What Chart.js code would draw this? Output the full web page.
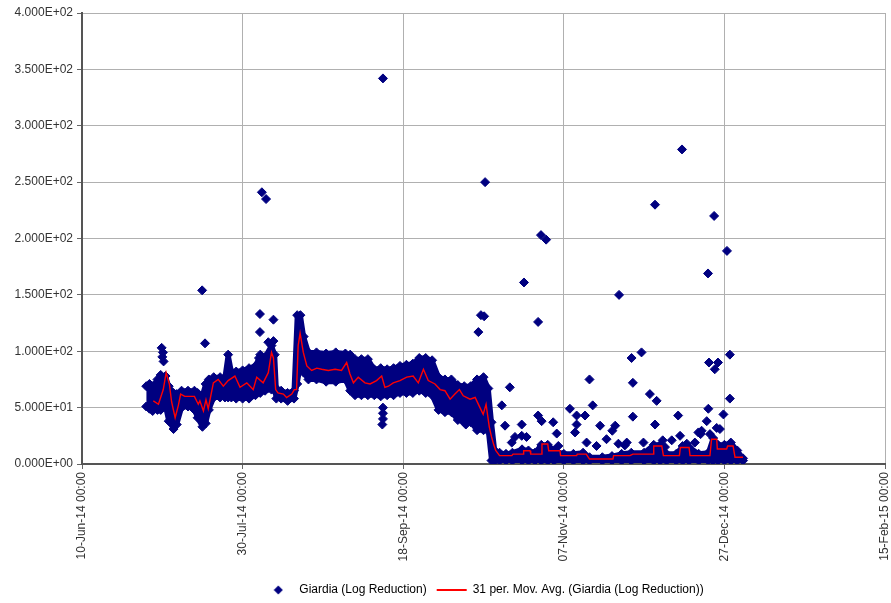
<!DOCTYPE html>
<html>
<head>
<meta charset="utf-8">
<script src="https://cdn.jsdelivr.net/npm/chart.js@4.4.1/dist/chart.umd.min.js"></script>
<style>
  html, body { margin: 0; padding: 0; background: #fff; }
</style>
</head>
<body>
<canvas id="chart" width="891" height="603"></canvas>
<script>
// x values are days counted from 10-Jun-14 00:00
const startUTC = Date.UTC(2014, 5, 10);
const monthNames = ["Jan", "Feb", "Mar", "Apr", "May", "Jun", "Jul", "Aug", "Sep", "Oct", "Nov", "Dec"];
const xTicks = [0, 50, 100, 150, 200, 250];
const yTicks = [0, 50, 100, 150, 200, 250, 300, 350, 400];

// dense cloud of readings: upper and lower edge per day
const bandDays = [
  20, 21, 22, 23.5, 24.5, 26, 27, 28.5, 29.5, 31,
  33, 35, 36, 37.5, 38.5, 39.5, 41, 43, 44.5, 45.5,
  46.5, 48, 50, 52, 54, 55.5, 57, 59, 60, 60.5,
  62, 64, 66, 67, 68, 69, 70.5, 73, 76, 79,
  82, 83.5, 85, 87, 89, 91, 93, 95, 97, 99,
  101, 103, 105, 107, 109, 111, 113, 115, 117, 119,
  121, 123, 125, 126.5, 127.5, 128.5, 130, 132, 134, 137,
  139, 141, 143, 145, 147, 150, 153, 156, 158, 162,
  165, 168, 171, 175, 178, 180, 182, 185, 187, 189,
  192, 195, 196.5, 198, 200, 202, 204, 205.8
];
const bandHigh = [
  69, 71, 69, 75, 79, 78, 69, 63, 62, 65,
  65, 65, 63, 61, 71, 75, 77, 77, 77, 97,
  82, 82, 83, 85, 87, 97, 95, 105, 97, 67,
  65, 63, 65, 132, 132, 113, 99, 99, 98, 99,
  98, 97, 93, 93, 93, 84, 85, 84, 85, 87,
  88, 89, 94, 94, 92, 77, 75, 75, 70, 69,
  69, 75, 77, 67, 37, 12, 10, 9, 10, 13,
  12, 10, 17, 17, 12, 9, 9, 10, 6, 6,
  7, 9, 10, 10, 17, 17, 9, 9, 16, 15,
  9, 10, 23, 17, 17, 19, 12, 5
];
const bandLow = [
  51, 49, 47, 48, 48, 51, 38, 31, 35, 50,
  51, 48, 41, 33, 36, 48, 59, 59, 59, 59,
  59, 58, 58, 58, 61, 63, 65, 66, 65, 58,
  58, 56, 58, 71, 88, 81, 75, 75, 73, 73,
  75, 65, 61, 61, 61, 61, 60, 61, 61, 63,
  63, 63, 65, 63, 61, 48, 46, 46, 39, 37,
  37, 30, 30, 29, 3, 3, 3, 3, 3, 3,
  3, 3, 3, 3, 3, 3, 3, 3, 3, 3,
  3, 3, 3, 3, 3, 3, 3, 3, 3, 3,
  3, 3, 3, 3, 3, 3, 3, 3
];

// isolated readings away from the cloud
const outDays = [
  24.8, 25.2, 25.0, 25.4, 37.4, 38.3, 56.0, 57.3, 55.4, 55.4,
  55.1, 59.6, 59.6, 58.0, 93.7, 93.7, 93.7, 93.7, 93.5, 119.5,
  123.4, 124.2, 125.2, 125.5, 130.7, 131.7, 133.2, 133.8, 134.8, 136.9,
  136.9, 137.6, 138.4, 142.0, 142.0, 142.9, 143.1, 144.5, 146.7, 147.8,
  148.3, 151.9, 153.5, 154.0, 154.0, 156.6, 157.1, 158.0, 159.0, 160.2,
  161.3, 163.3, 165.1, 166.0, 167.0, 167.2, 169.0, 169.6, 171.1, 171.5,
  171.5, 174.2, 174.8, 176.8, 178.4, 178.4, 178.9, 180.8, 181.5, 183.6,
  185.6, 186.2, 186.8, 188.3, 190.8, 191.9, 192.6, 192.9, 194.5, 194.9,
  195.0, 195.2, 195.5, 196.8, 197.0, 197.6, 198.0, 198.6, 199.7, 200.8,
  201.7, 201.7
];
const outVals = [
  103, 99, 95, 91, 154, 107, 241, 235, 133, 117,
  94, 128, 109, 108, 342, 50, 45, 40, 35, 35,
  117, 132, 131, 250, 52, 34, 68, 19, 24, 35,
  25, 161, 24, 126, 43, 203, 38, 199, 37, 27,
  16, 49, 28, 43, 35, 43, 19, 75, 52, 16,
  34, 22, 29.5, 34, 18, 150, 16.5, 19, 94, 72,
  42, 99, 19, 62, 230, 35, 56, 21, 15, 21,
  43, 25, 279, 18, 19, 28, 26.5, 29.5, 38, 169,
  49, 90, 26.5, 220, 84, 32, 90, 31, 44, 189,
  97, 58
];

// 31 period moving average
const avgDays = [
  22.2, 23.8, 25.3, 26.2, 27.2, 27.9, 29, 30, 30.7, 32,
  35, 36.2, 36.7, 37.8, 38.6, 39.3, 40.9, 42.4, 44, 45.5,
  47.6, 49.2, 51.3, 53.3, 54.4, 56.4, 58, 59, 59.6, 60.3,
  61, 62.7, 63.7, 65.3, 66.1, 66.8, 67.3, 67.9, 68.9, 70,
  71.5, 73.1, 74.6, 76.7, 78.8, 80.8, 82.4, 83.4, 84.5, 86,
  88.1, 89.7, 91.7, 93.3, 94.3, 95.4, 96.9, 99, 101.1, 103.1,
  104.7, 106.3, 107.8, 109.9, 111.5, 113, 114.6, 116.1, 117.5, 118.7,
  120.8, 122.4, 123.9, 124.9, 125.8, 126.8, 127.5, 128.2, 128.8, 129.6,
  130, 133.8, 134.2, 137.3, 137.5, 139.5, 139.7, 143, 143.2, 145,
  145.3, 148.8, 149, 154, 154.2, 157, 158, 165.3, 165.5, 170.6,
  171.5, 177.8, 178, 180.5, 181, 186, 186.3, 189, 189.3, 195.5,
  196, 197.6, 197.8, 200.7, 201, 202.7, 203.3, 205.8
];
const avgVals = [
  56, 53, 66, 81, 71, 55, 41, 52, 62, 60,
  60, 53, 56, 47, 57, 49, 72, 75, 69, 74,
  78, 68, 72, 66, 77, 72, 81, 99, 94, 66,
  63, 62, 59, 62, 66, 66, 105, 116, 99, 87,
  83, 85, 84, 83, 84, 83, 90, 80, 72, 77,
  72, 71, 74, 78, 68, 69, 72, 74, 77, 78,
  72, 84, 74, 71, 66, 65, 57.5, 62, 66, 60.5,
  57.5, 59, 50, 44, 53, 33, 24, 17, 12, 9,
  7.4, 7.4, 8.8, 8.8, 11.8, 11.8, 8.8, 8.8, 17.7, 17.7,
  11.8, 11.8, 7.4, 7.4, 8.8, 8.8, 4.4, 4.4, 7.4, 7.4,
  8.8, 8.8, 16, 16, 7.4, 7.4, 14.7, 14.7, 7.4, 7.4,
  22, 22, 13.3, 13.3, 16, 16, 6, 6
];

const navy = "#000080";
const red = "#ff0000";

function pts(xs, ys) {
  return xs.map((x, i) => ({ x: x, y: ys[i] }));
}

function dateLabel(days) {
  const d = new Date(startUTC + days * 86400000);
  return String(d.getUTCDate()).padStart(2, "0") + "-" + monthNames[d.getUTCMonth()] +
    "-" + String(d.getUTCFullYear()).slice(2) + " 00:00";
}

function sciLabel(v) {
  if (v === 0) return "0.000E+00";
  const e = Math.floor(Math.log10(v));
  return (v / Math.pow(10, e)).toFixed(3) + "E+" + String(e).padStart(2, "0");
}

// legend swatch for the diamond series
function diamondSwatch() {
  const c = document.createElement("canvas");
  c.width = 10; c.height = 10;
  const g = c.getContext("2d");
  g.fillStyle = navy;
  g.beginPath();
  g.moveTo(5, 0.5); g.lineTo(9.5, 5); g.lineTo(5, 9.5); g.lineTo(0.5, 5);
  g.closePath();
  g.fill();
  return c;
}

const scatterData = pts(bandDays, bandHigh)
  .concat(pts(bandDays, bandLow))
  .concat(pts(outDays, outVals));

const font = { family: "'Liberation Sans', Arial, sans-serif", size: 12 };

new Chart(document.getElementById("chart"), {
  type: "scatter",
  data: {
    datasets: [
      {
        label: "Giardia (Log Reduction)",
        data: scatterData,
        pointStyle: "rectRot",
        pointRadius: 4.5,
        borderWidth: 1,
        backgroundColor: navy,
        borderColor: navy,
        order: 1,
      },
      {
        label: "31 per. Mov. Avg. (Giardia (Log Reduction))",
        type: "line",
        data: pts(avgDays, avgVals),
        showLine: true,
        borderColor: red,
        borderWidth: 1.4,
        pointRadius: 0,
        tension: 0,
        fill: false,
        order: 0,
      },
      {
        label: "band high",
        type: "line",
        data: pts(bandDays, bandHigh),
        showLine: true,
        borderColor: navy,
        backgroundColor: navy,
        borderWidth: 5,
        borderJoinStyle: "round",
        borderCapStyle: "round",
        pointRadius: 0,
        fill: "+1",
        order: 2,
      },
      {
        label: "band low",
        type: "line",
        data: pts(bandDays, bandLow),
        showLine: true,
        borderColor: navy,
        borderWidth: 5,
        borderJoinStyle: "round",
        borderCapStyle: "round",
        pointRadius: 0,
        fill: false,
        order: 2,
      },
    ],
  },
  options: {
    responsive: false,
    animation: false,
    layout: { padding: { top: 13, right: 6, left: 0, bottom: -3 } },
    scales: {
      x: {
        type: "linear",
        min: 0,
        max: 250,
        afterBuildTicks: (s) => { s.ticks = xTicks.map((v) => ({ value: v })); },
        afterFit: (s) => { s.height = 110; s.paddingRight = 0; s.paddingLeft = 0; },
        ticks: {
          callback: (v) => dateLabel(v),
          minRotation: 90,
          maxRotation: 90,
          padding: 3,
          color: "#333",
          font: font,
        },
        grid: { color: "#b0b0b0", lineWidth: 1, tickLength: 5, tickColor: "#666" },
        border: { color: "#555", width: 2 },
      },
      y: {
        min: 0,
        max: 400,
        afterBuildTicks: (s) => { s.ticks = yTicks.map((v) => ({ value: v })); },
        afterFit: (s) => { s.width = 82; },
        ticks: {
          callback: (v) => sciLabel(v),
          padding: 4,
          color: "#333",
          font: font,
        },
        grid: { color: "#b0b0b0", lineWidth: 1, tickLength: 5, tickColor: "#666" },
        border: { color: "#555", width: 2 },
      },
    },
    plugins: {
      tooltip: { enabled: false },
      legend: {
        position: "bottom",
        fullSize: false,
        labels: {
          usePointStyle: true,
          pointStyleWidth: 30,
          padding: 10,
          color: "#222",
          font: font,
          generateLabels: () => [
            {
              text: "Giardia (Log Reduction)",
              pointStyle: diamondSwatch(),
              fillStyle: navy,
              strokeStyle: navy,
              lineWidth: 0,
              datasetIndex: 0,
              hidden: false,
            },
            {
              text: "31 per. Mov. Avg. (Giardia (Log Reduction))",
              pointStyle: "line",
              fillStyle: red,
              strokeStyle: red,
              lineWidth: 2,
              datasetIndex: 1,
              hidden: false,
            },
          ],
        },
      },
    },
  },
});
</script>
</body>
</html>
